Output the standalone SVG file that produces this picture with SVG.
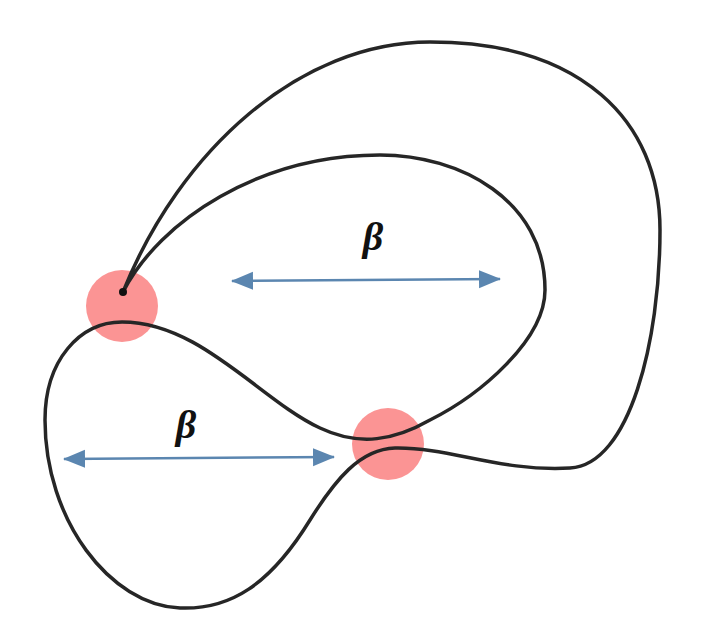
<svg xmlns="http://www.w3.org/2000/svg" width="703" height="627" viewBox="0 0 703 627">
<style>
.pt{fill:#fb9494}
.cv{fill:none;stroke:#262626;stroke-width:3.5}
.ar{stroke:#5b86b0;stroke-width:2.5;fill:none;marker-start:url(#h);marker-end:url(#h)}
.lb{font-family:"Liberation Serif",serif;font-style:italic;font-weight:bold;font-size:40px;fill:#111;text-anchor:middle}
</style>
<defs><marker id="h" viewBox="0 0 22 20" refX="21" refY="10" markerWidth="22" markerHeight="20" markerUnits="userSpaceOnUse" orient="auto-start-reverse"><path d="M0,1 L22,10 L0,19 Z" fill="#5b86b0"/></marker></defs>
<g id="points"><circle class="pt" cx="122" cy="306" r="36"/><circle class="pt" cx="388" cy="444" r="36"/></g>
<g id="connectors">
<path class="cv" d="M123,292 C180,150 300,42 430,42 C580,42 660,120 660,230 C660,340 630,465 570,468 C500,472 450,447 395,448 C360,449 335,480 310,520 C270,585 230,610 180,608 C110,605 45,520 45,420 C45,360 80,322 122,322 C200,322 260,400 320,428 C360,447 395,440 430,420 C480,395 545,340 545,290 C545,200 460,155 380,155 C260,155 160,220 123,292"/>
<circle cx="123" cy="292" r="4" fill="#111"/>
<line class="ar" x1="232" y1="281" x2="500" y2="279"/>
<line class="ar" x1="64" y1="459" x2="334" y2="457"/>
</g>
<g id="labels"><text class="lb" x="373" y="250">β</text><text class="lb" x="186" y="438">β</text></g>
</svg>
